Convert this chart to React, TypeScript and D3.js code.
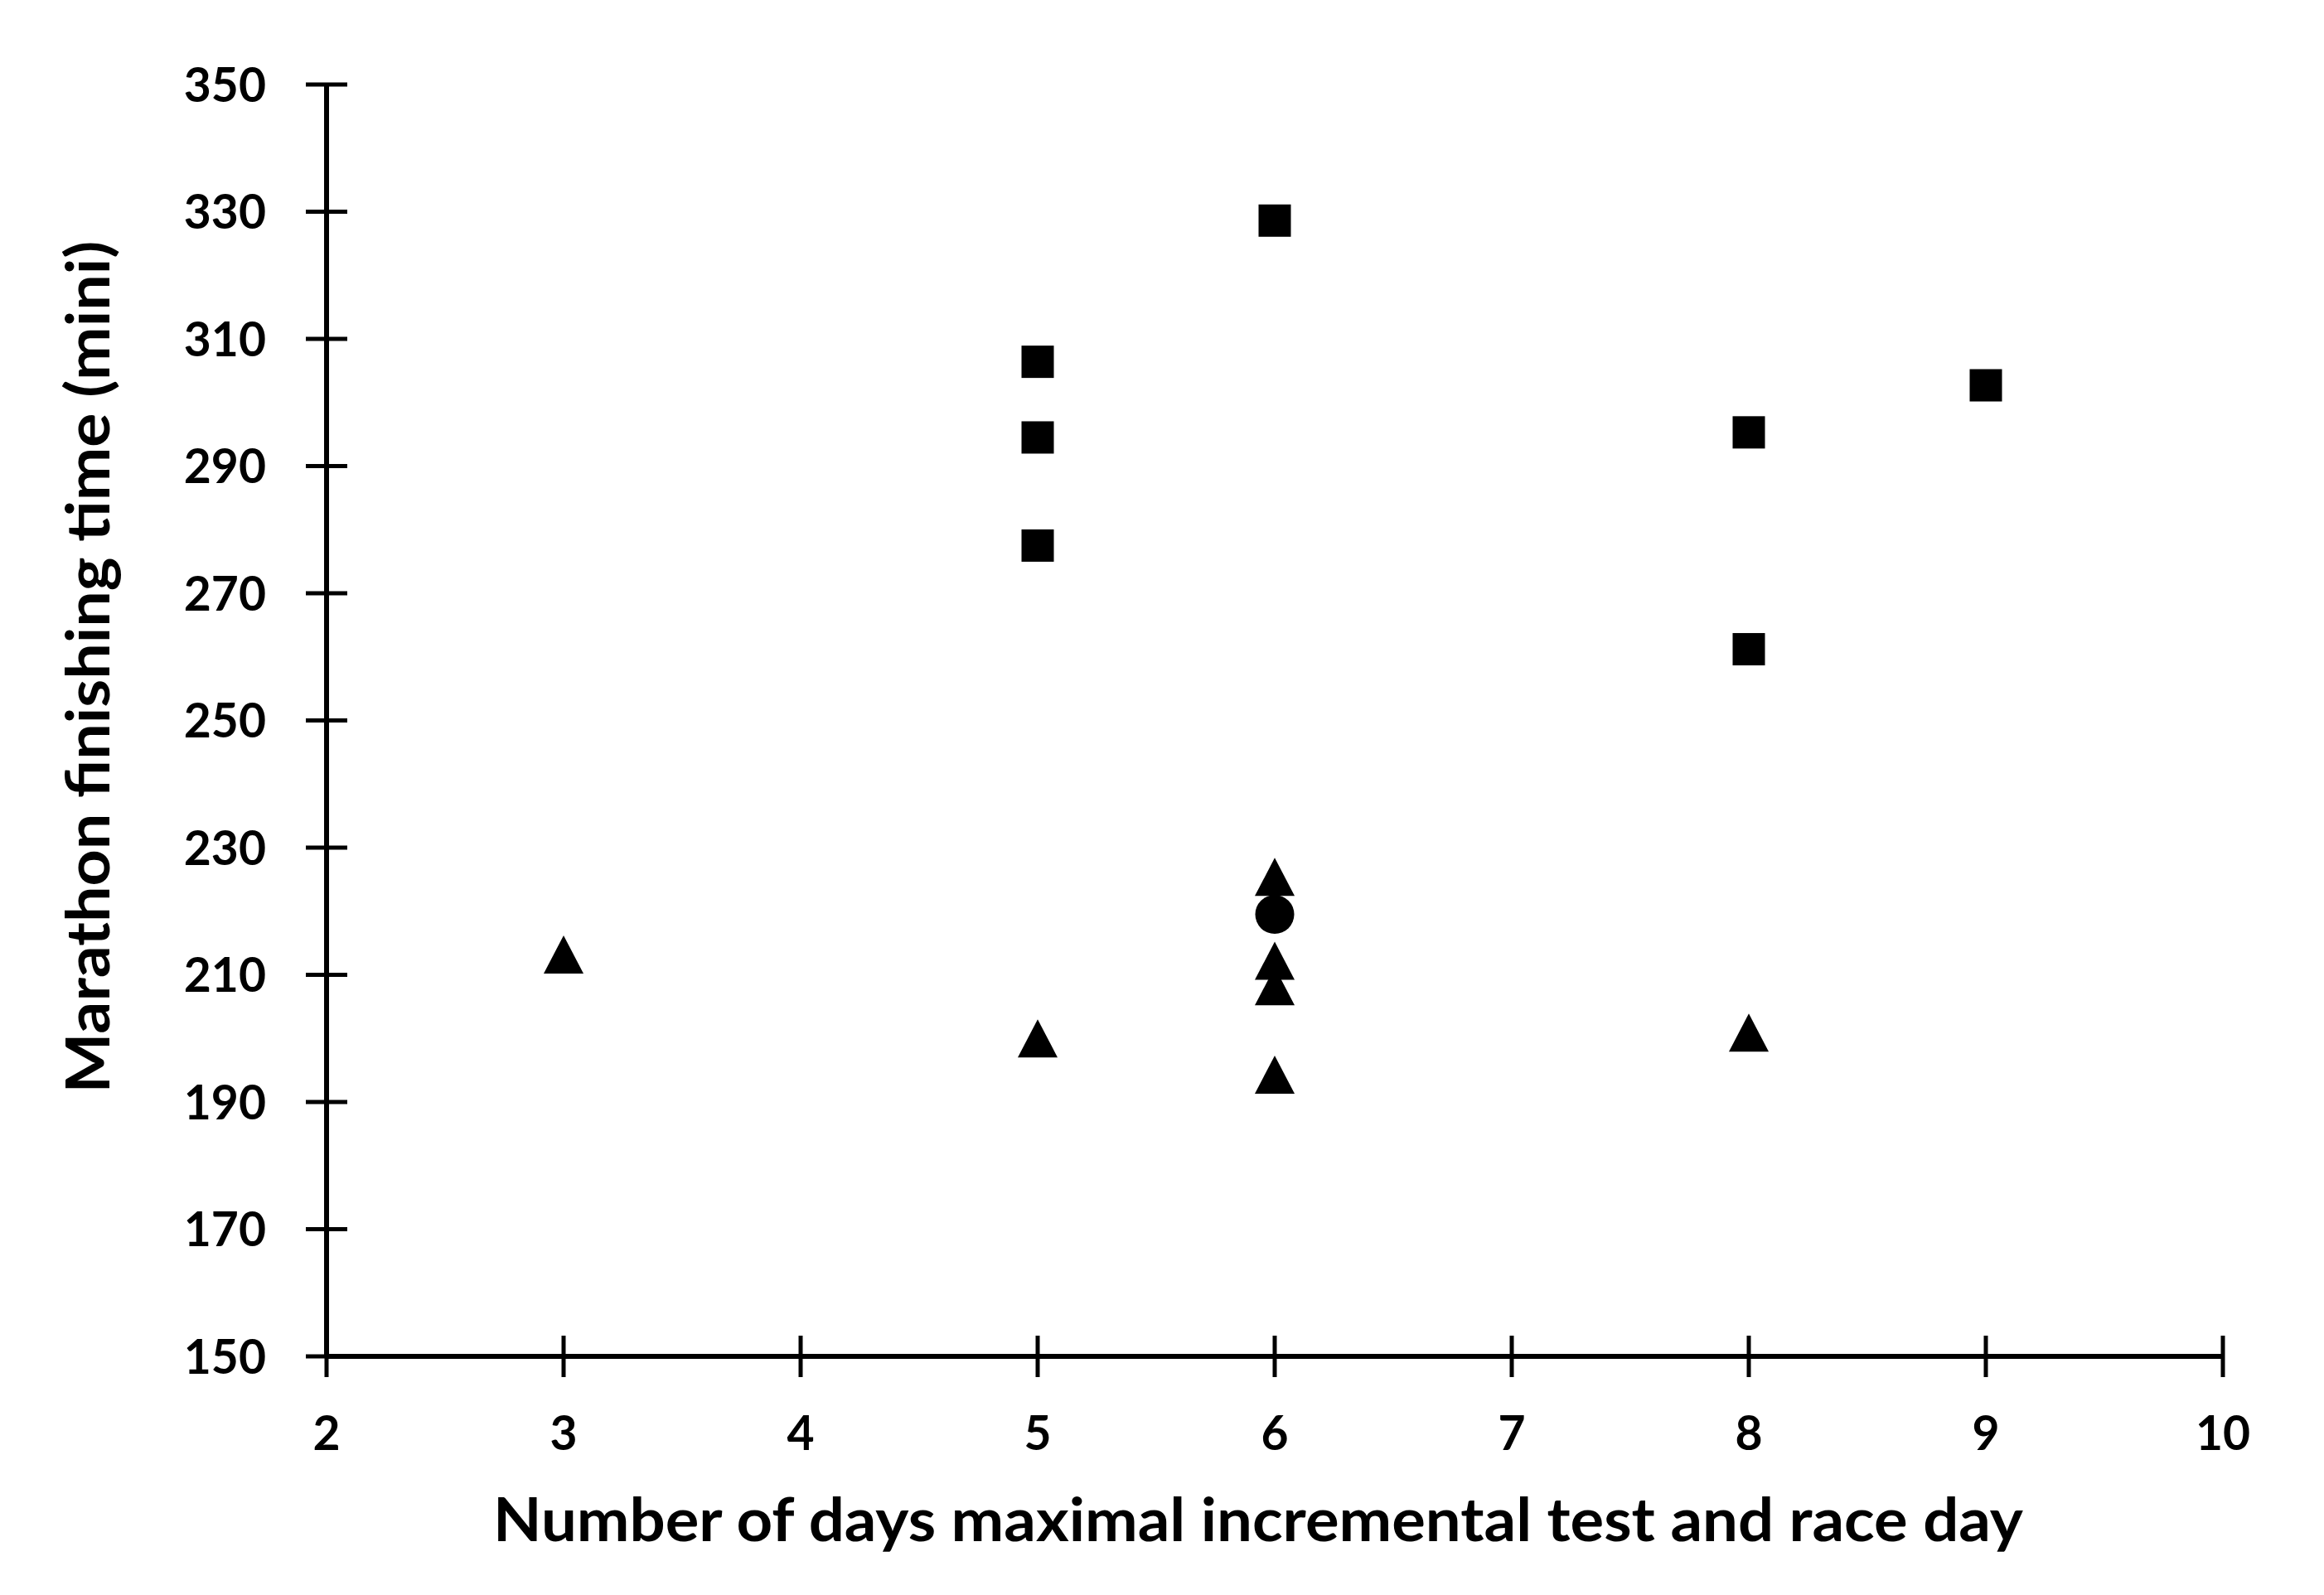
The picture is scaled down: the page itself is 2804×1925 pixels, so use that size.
import React from "react";
import * as d3 from "d3";

const xTicks = [2, 3, 4, 5, 6, 7, 8, 9, 10];
const yTicks = [150, 170, 190, 210, 230, 250, 270, 290, 310, 330, 350];

const squareDays = [5, 5, 5, 6, 8, 8, 9];
const squareTimes = [306.4, 294.5, 277.5, 328.6, 295.3, 261.2, 302.7];

const triangleDays = [3, 5, 6, 6, 6, 6, 8];
const triangleTimes = [213.2, 200.0, 225.4, 212.2, 208.2, 194.3, 200.9];

const circleDays = [6];
const circleTimes = [219.5];

const xTitle = "Number of days maximal incremental test and race day";
const yTitle = "Marathon finishing time (mini)";

const W = 2804;
const H = 1925;

export default function App() {
  const x = d3.scaleLinear().domain([2, 10]).range([394, 2682]);
  const y = d3.scaleLinear().domain([150, 350]).range([1637, 102]);
  const font = "Lato, 'Open Sans', sans-serif";
  const sq = 39;
  const triPath = (() => {
    const w = 48, h = 46;
    return `M0,${-h / 2}L${w / 2},${h / 2}L${-w / 2},${h / 2}Z`;
  })();

  return (
    <svg
      width={W}
      height={H}
      style={{ position: "absolute", left: 0, top: 0, background: "#fff" }}
    >
      <rect x={0} y={0} width={W} height={H} fill="#fff" />
      <line x1={x(2)} x2={x(2)} y1={y(350)} y2={y(150)} stroke="#000" strokeWidth={6} />
      <line x1={x(2)} x2={x(10)} y1={y(150)} y2={y(150)} stroke="#000" strokeWidth={6} />
      {yTicks.map((t) => (
        <g key={"y" + t}>
          <line x1={x(2) - 25} x2={x(2) + 25} y1={y(t)} y2={y(t)} stroke="#000" strokeWidth={5} />
          <text
            x={321}
            y={y(t)}
            dy="0.36em"
            textAnchor="end"
            fontFamily={font}
            fontWeight="bold"
            fontSize={57}
            fill="#000"
          >
            {t}
          </text>
        </g>
      ))}
      {xTicks.map((t) => (
        <g key={"x" + t}>
          <line x1={x(t)} x2={x(t)} y1={y(150) - 25} y2={y(150) + 25} stroke="#000" strokeWidth={5} />
          <text
            x={x(t)}
            y={1750}
            textAnchor="middle"
            fontFamily={font}
            fontWeight="bold"
            fontSize={57}
            fill="#000"
          >
            {t}
          </text>
        </g>
      ))}
      <text
        x={1518}
        y={1860}
        textAnchor="middle"
        fontFamily={font}
        fontWeight="bold"
        fontSize={72}
        textLength={1846}
        lengthAdjust="spacingAndGlyphs"
        fill="#000"
      >
        {xTitle}
      </text>
      <text
        transform={`translate(132,805) rotate(-90)`}
        textAnchor="middle"
        fontFamily={font}
        fontWeight="bold"
        fontSize={72}
        textLength={1029}
        lengthAdjust="spacingAndGlyphs"
        fill="#000"
      >
        {yTitle}
      </text>
      {squareDays.map((d, i) => (
        <rect
          key={"s" + i}
          x={x(d) - sq / 2}
          y={y(squareTimes[i]) - sq / 2}
          width={sq}
          height={sq}
          fill="#000"
        />
      ))}
      {triangleDays.map((d, i) => (
        <path
          key={"t" + i}
          d={triPath}
          transform={`translate(${x(d)},${y(triangleTimes[i])})`}
          fill="#000"
        />
      ))}
      {circleDays.map((d, i) => (
        <circle key={"c" + i} cx={x(d)} cy={y(circleTimes[i])} r={23.5} fill="#000" />
      ))}
    </svg>
  );
}
